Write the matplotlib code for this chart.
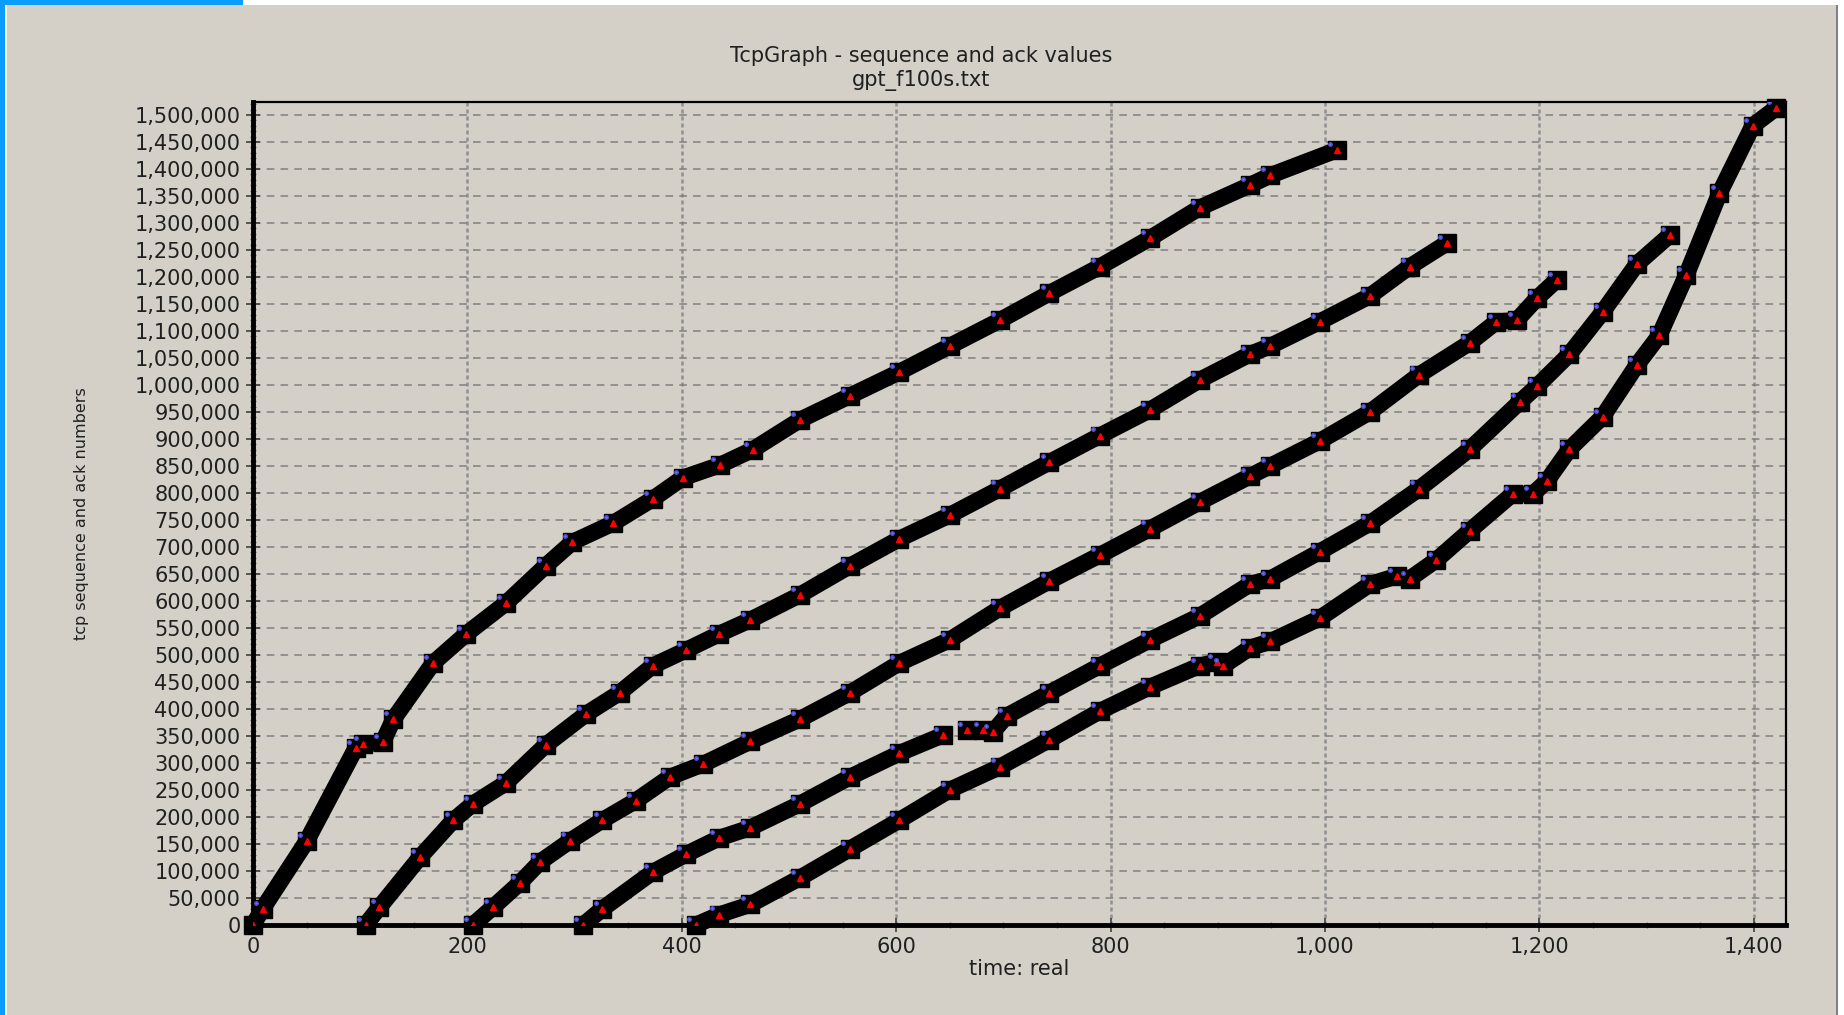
import numpy as np
import matplotlib
matplotlib.use("Agg")
import matplotlib.pyplot as plt
import matplotlib.patches as mpatches
import matplotlib.transforms as mtransforms
from matplotlib.ticker import MultipleLocator, StrMethodFormatter

# seq values per connection (nan = break in the trace)
c1_t = [0, 9, 50, 96, 103, 121, 131, 168, 199, 236, 273, 298, 336, 373, 401,
        436, 466, 510, 557, 603, 650, 697, 743, 790, 837, 883, 930, 949, 1011]
c1_s = [0, 30000, 155000, 328000, 335000, 338000, 381000, 485000, 539000,
        596000, 665000, 709000, 744000, 789000, 828000, 852000, 880000, 935000,
        980000, 1024000, 1072000, 1120000, 1170000, 1219000, 1272000, 1328000,
        1370000, 1388000, 1435000]

c2_t = [105, 118, 156, 187, 205, 236, 273, 311, 342, 373, 404, 435, 464, 510,
        557, 603, 650, 697, 743, 790, 837, 883, 930, 949, 995, 1042, 1079, 1114]
c2_s = [0, 33000, 126000, 194000, 224000, 263000, 333000, 391000, 430000,
        480000, 509000, 539000, 565000, 611000, 665000, 715000, 759000, 808000,
        857000, 906000, 954000, 1009000, 1057000, 1072000, 1117000, 1165000,
        1219000, 1263000]

c3_t = [205, 224, 249, 268, 296, 326, 357, 389, 420, 464, 510, 557, 603, 650,
        697, 743, 790, 837, 883, 930, 949, 995, 1042, 1088, 1135, 1160, 1179,
        1198, 1216]
c3_s = [0, 33000, 78000, 117000, 156000, 194000, 230000, 274000, 298000,
        340000, 381000, 430000, 485000, 528000, 587000, 637000, 685000, 734000,
        783000, 831000, 850000, 896000, 950000, 1019000, 1078000, 1117000,
        1120000, 1161000, 1194000]

c4_t = [308, 326, 373, 404, 435, 464, 510, 557, 603, 644, np.nan, 666, 681,
        690, 703, 743, 790, 837, 883, 930, 949, 995, 1042, 1088, 1135, 1182,
        1198, 1228, 1259, 1291, 1322]
c4_s = [0, 30000, 98000, 131000, 161000, 180000, 224000, 274000, 318000,
        352000, np.nan, 361000, 361000, 357000, 387000, 430000, 480000, 528000,
        572000, 631000, 641000, 691000, 744000, 808000, 881000, 969000, 998000,
        1057000, 1135000, 1224000, 1278000]

c5_t = [413, 435, 464, 510, 557, 603, 650, 697, 743, 790, 837, 883, 899, 905,
        930, 949, 995, 1042, 1067, 1079, 1104, 1135, 1175, 1194, 1207, 1228,
        1259, 1291, 1312, 1337, 1368, 1399, 1421]
c5_s = [0, 19000, 38000, 87000, 141000, 194000, 250000, 293000, 343000,
        396000, 441000, 480000, 487000, 480000, 513000, 525000, 568000, 631000,
        646000, 641000, 676000, 730000, 798000, 798000, 822000, 881000, 941000,
        1037000, 1092000, 1203000, 1355000, 1480000, 1513000]

curves = [(c1_t, c1_s), (c2_t, c2_s), (c3_t, c3_s), (c4_t, c4_s), (c5_t, c5_s)]

BG = "#d4d0c8"
TXT = "#202020"
plt.rcParams["font.family"] = ["DejaVu Sans"]

fig = plt.figure(figsize=(18.44, 10.15), dpi=100, facecolor=BG)
ax = fig.add_axes([0.1372, 0.0887, 0.9685 - 0.1372, 0.8995 - 0.0887])
ax.set_facecolor(BG)

# window frame bits
def frame_rect(x, y, w, h, color):
    fig.add_artist(mpatches.Rectangle((x / 1844, 1 - (y + h) / 1015), w / 1844, h / 1015,
                                      transform=fig.transFigure, color=color, lw=0))

frame_rect(0, 0, 1844, 5, "white")
frame_rect(0, 0, 243, 5, "#0a9cff")
frame_rect(0, 0, 5, 1015, "#0a9cff")
frame_rect(5, 5, 2, 1010, "white")
frame_rect(1836, 5, 2, 1010, "#808080")
frame_rect(1838, 0, 6, 1015, "white")

blue_off = ax.transData + mtransforms.ScaledTranslation(-5 / 72, 4.5 / 72, fig.dpi_scale_trans)

for t, s in curves:
    ax.plot(t, s, color="black", lw=12, solid_joinstyle="miter", solid_capstyle="butt",
            marker="s", ms=13, mfc="black", mec="black", clip_on=False, zorder=3)
    ax.plot(t, s, ls="none", marker="^", ms=5, color="red", mec="red", zorder=4)
    ax.plot(t, s, ls="none", marker="o", ms=2.5, color="#7070ff", mec="#5050d0",
            transform=blue_off, zorder=4)

ax.set_xlim(0, 1430)
ax.set_ylim(0, 1524000)

ax.xaxis.set_major_locator(MultipleLocator(200))
ax.xaxis.set_minor_locator(MultipleLocator(50))
ax.yaxis.set_major_locator(MultipleLocator(50000))
ax.yaxis.set_minor_locator(MultipleLocator(10000))
ax.xaxis.set_major_formatter(StrMethodFormatter("{x:,.0f}"))
ax.yaxis.set_major_formatter(StrMethodFormatter("{x:,.0f}"))

ax.tick_params(which="major", direction="inout", length=10, width=1.2, color="#404040",
               labelsize=15, labelcolor=TXT, pad=4)
ax.tick_params(which="minor", direction="inout", length=5, width=1, color="#707070")

ax.grid(axis="y", which="major", color="#808080", linestyle=(0, (5, 4)), linewidth=1.1)
ax.grid(axis="x", which="major", color="#909090", linestyle=(0, (1.6, 1.2)), linewidth=1.8)
ax.set_axisbelow(True)

for side in ["left", "bottom"]:
    ax.spines[side].set_linewidth(3.5)
for side in ["top", "right"]:
    ax.spines[side].set_linewidth(1.6)

ax.set_xlabel("time: real", fontsize=15, color=TXT, labelpad=1)
ax.set_ylabel("tcp sequence and ack numbers", fontsize=11.5, color=TXT)
ax.yaxis.set_label_coords(-0.107, 0.5)

fig.text(0.4995, 0.945, "TcpGraph - sequence and ack values", ha="center", va="center",
         fontsize=15, color=TXT)
fig.text(0.4995, 0.921, "gpt_f100s.txt", ha="center", va="center", fontsize=15, color=TXT)

fig.savefig("out.png", dpi=100, facecolor=BG)
